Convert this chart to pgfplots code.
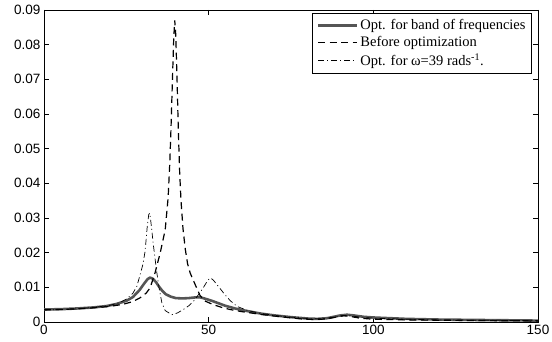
\documentclass[border=0pt]{standalone}
\usepackage{fontspec}
\setmainfont{Liberation Sans}
\newfontfamily\legfont{Liberation Serif}
\usepackage{pgfplots}
\pgfplotsset{compat=1.18}
\definecolor{solidgray}{RGB}{85,85,85}
\begin{document}
\begin{tikzpicture}
\begin{axis}[
  scale only axis, width=494pt, height=312pt,
  xmin=0, xmax=150, ymin=0, ymax=0.09,
  xtick={0,50,100,150},
  ytick={0,0.01,0.02,0.03,0.04,0.05,0.06,0.07,0.08,0.09},
  tick align=inside, major tick length=5pt,
  axis line style={line width=0.9pt},
  tick style={line width=0.7pt, black},
  tick label style={font=\fontsize{13.5}{15}\selectfont},
  /pgf/number format/assume math mode=true,
  yticklabel style={/pgf/number format/fixed, /pgf/number format/precision=2},
  scaled y ticks=false,
  legend style={at={(axis description cs:1,1)}, anchor=north east, xshift=-6pt, yshift=-3pt,
    font=\legfont\fontsize{14.5}{16}\selectfont, draw=black, line width=0.9pt,
    inner xsep=4pt, inner ysep=4pt, row sep=1.5pt},
  legend cell align=left,
  legend image code/.code={\draw[#1] (0pt,0pt) -- (39pt,0pt);},
]
\addplot[solidgray, line width=2.6pt, line join=round] coordinates {
(0,0.0036) (5,0.0037) (10,0.0039) (15,0.0042) (19,0.0046) (22,0.0052) (25,0.0061)
(27,0.0072) (29,0.0092) (30.5,0.0112) (31.5,0.0124) (32.2,0.0128) (33,0.0125)
(34,0.0115) (35,0.0101) (36,0.0089) (37,0.0080) (38.5,0.0073) (40,0.0069)
(42,0.0068) (44,0.0069) (46,0.0071) (47.5,0.0071) (49,0.0067) (51,0.0061)
(53,0.0054) (55,0.0047) (58,0.0039) (62,0.0031) (66,0.0024) (70,0.0019)
(75,0.0014) (80,0.0010) (83,0.0009) (86,0.0011) (88,0.0015) (90,0.0019)
(92,0.0021) (94,0.0019) (97,0.0015) (100,0.0013) (105,0.0011) (110,0.0009)
(120,0.0007) (130,0.0006) (140,0.0005) (150,0.0004)
};
\addlegendentry{Opt. for band of frequencies}
\addplot[black, line width=1.2pt, dash pattern=on 7pt off 4.5pt] coordinates {
(0,0.0035) (5,0.0036) (10,0.0038) (15,0.0041) (20,0.0045) (24,0.0051) (27,0.0059)
(29.2,0.0070) (31,0.0083) (32.2,0.0098) (33.7,0.0141) (35.3,0.0200) (36.8,0.0266)
(37.7,0.0360) (38.2,0.0460) (38.6,0.0570) (39.0,0.0700) (39.4,0.0820) (39.7,0.0870)
(40.0,0.0830) (40.4,0.0700) (40.8,0.0550) (41.2,0.0430) (41.6,0.0350) (42.2,0.0270)
(42.9,0.0210) (43.6,0.0168) (44.4,0.0141) (45.9,0.0108) (47.4,0.0076) (49,0.0060)
(51.4,0.0050) (54,0.0042) (56.5,0.0036) (60,0.0030) (66.6,0.0021) (72,0.0015)
(78,0.0009) (82,0.0007) (86,0.0009) (89,0.0015) (91,0.0018) (93,0.0016)
(96,0.0011) (100,0.0008) (110,0.0006) (120,0.0005) (135,0.0004) (150,0.0003)
};
\addlegendentry{Before optimization}
\addplot[black, line width=0.7pt, dash pattern=on 6pt off 3pt on 1pt off 3pt] coordinates {
(0,0.0035) (5,0.0036) (10,0.0038) (15,0.0042) (20,0.0048) (23,0.0056) (25,0.0066)
(27,0.0083) (28.2,0.0103) (29.2,0.0137) (30,0.0165) (30.7,0.0204) (31.3,0.0270)
(31.8,0.0310) (32.1,0.0314) (32.5,0.0285) (33.2,0.0223) (34.2,0.0146) (35.0,0.0095)
(35.8,0.0055) (36.8,0.0033) (38.8,0.0021) (40.5,0.0026) (42.3,0.0036) (44,0.0047)
(45.4,0.0060) (47,0.0080) (48.5,0.0101) (49.7,0.0120) (50.5,0.0127) (51.3,0.0122)
(52.5,0.0108) (54.5,0.0084) (56.5,0.0062) (58.6,0.0045) (61.6,0.0034) (65,0.0026)
(70,0.0019) (75,0.0014) (80,0.0010) (83,0.0009) (86,0.0011) (89,0.0016) (91,0.0019)
(93,0.0018) (96,0.0014) (100,0.0011) (110,0.0008) (120,0.0006) (135,0.0005) (150,0.0004)
};
\addlegendentry{Opt. for ω=39 rads\textsuperscript{-1}.}
\end{axis}
\pgfresetboundingbox
\useasboundingbox ([shift={(-44pt,-20pt)}]current axis.south west) rectangle ([shift={(14pt,10pt)}]current axis.north east);
\end{tikzpicture}
\end{document}
